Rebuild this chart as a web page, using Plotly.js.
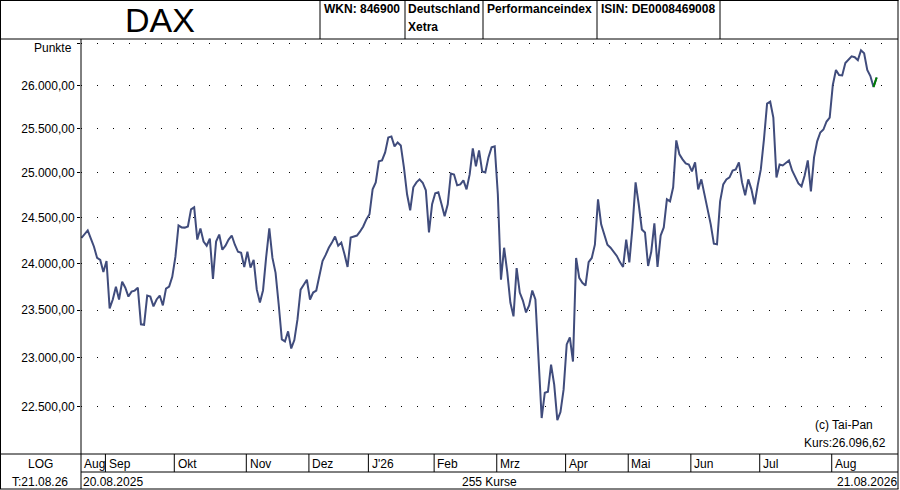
<!DOCTYPE html>
<html>
<head>
<meta charset="utf-8">
<script src="https://cdn.plot.ly/plotly-3.0.1.min.js"></script>
<style>
  html, body { margin: 0; padding: 0; background: #ffffff; }
  #chart { width: 900px; height: 490px; }
</style>
</head>
<body>
<div id="chart"></div>
<script>
// ---------------- data ----------------
const startDate = '2025-08-20';
const holidays = ['2025-12-24','2025-12-25','2025-12-26','2025-12-31','2026-01-01','2026-04-03','2026-04-06','2026-05-01'];
const monthNames = ['Jan','Feb','Mrz','Apr','Mai','Jun','Jul','Aug','Sep','Okt','Nov','Dez'];

const closeValues = [
24277,24314,24359,24270,24181,24059,24037,23908,24026,23518,
23613,23750,23613,23803,23739,23644,23697,23708,23739,23350,
23345,23655,23644,23539,23613,23655,23550,23729,23750,23855,
24070,24414,24392,24390,24403,24592,24614,24259,24381,24237,
24192,24270,23834,24237,24314,24148,24192,24259,24303,24203,
24126,24115,23961,24126,23955,24037,23718,23581,23712,24070,
24381,24059,23898,23560,23192,23171,23276,23098,23185,23402,
23718,23771,23824,23613,23687,23708,23877,24026,24092,24170,
24226,24292,24192,24226,24103,23961,24281,24292,24303,24348,
24403,24481,24537,24814,24892,25129,25140,25231,25401,25413,
25299,25344,25310,25060,24759,24581,24837,24892,24926,24888,
24803,24337,24648,24770,24781,24652,24514,24648,24992,24981,
24859,24870,24914,24814,24981,25276,25072,25253,25015,25003,
25174,25288,25299,24759,23824,24170,23908,23581,23434,23950,
23687,23602,23476,23550,23708,23613,23014,22385,22642,22652,
22931,22724,22364,22446,22673,23140,23213,22962,24059,23845,
23792,23761,24014,24059,24203,24703,24426,24303,24203,24170,
24126,24081,24014,23961,24259,24010,24392,24892,24648,24370,
24337,23972,24126,24437,23961,24303,24392,24703,24681,24837,
25367,25208,25151,25106,25094,25015,25117,24814,24926,24759,
24592,24426,24214,24208,24681,24870,24926,24948,25026,25038,
25117,24892,24748,24926,24814,24648,24859,25038,25378,25790,
25813,25630,24948,25094,25083,25117,25140,25026,24948,24881,
24848,24970,25140,24792,25174,25356,25458,25492,25584,25630,
26008,26184,26125,26120,26266,26312,26347,26336,26301,26418,
26383,26184,26113,25985,26096.62
];

const yTickVals = [22500,23000,23500,24000,24500,25000,25500,26000,26500];
const yTickLabels = ['22.500,00','23.000,00','23.500,00','24.000,00','24.500,00','25.000,00','25.500,00','26.000,00',''];

const headerTexts = ['WKN: 846900','Deutschland','Xetra','Performanceindex','ISIN: DE0008469008'];
const titleText = 'DAX';
const footerTexts = {log:'LOG', tdate:'T:21.08.26', first:'20.08.2025', count:'255 Kurse', last:'21.08.2026'};
const lastQuote = 'Kurs:26.096,62';

// ---------------- trading calendar ----------------
function tradingDates(start, n, hol) {
  const out = [];
  const d = new Date(start + 'T12:00:00Z');
  while (out.length < n) {
    const wd = d.getUTCDay();
    const s = d.toISOString().slice(0,10);
    if (wd !== 0 && wd !== 6 && hol.indexOf(s) < 0) out.push(s);
    d.setUTCDate(d.getUTCDate() + 1);
  }
  return out;
}
const dates = tradingDates(startDate, closeValues.length, holidays);
const idx = dates.map((_, i) => i);

// month starts
const monthStarts = [];
dates.forEach((s, i) => {
  const m = parseInt(s.slice(5,7),10) - 1;
  const prev = i > 0 ? parseInt(dates[i-1].slice(5,7),10) - 1 : -1;
  if (m !== prev) {
    const label = m === 0 ? "J'" + s.slice(2,4) : monthNames[m];
    monthStarts.push({i, label});
  }
});

// ---------------- layout helpers (pixel -> paper) ----------------
const L = 81, R = 897, T = 40, B = 454;
const P = px => (px - L) / (R - L);
const Q = py => (B - py) / (B - T);

const shapes = [];
function hline(y, x0, x1) { shapes.push({type:'line', xref:'paper', yref:'paper', x0:P(x0), x1:P(x1), y0:Q(y), y1:Q(y), line:{color:'#000', width:1}}); }
function vline(x, y0, y1) { shapes.push({type:'line', xref:'paper', yref:'paper', x0:P(x), x1:P(x), y0:Q(y0), y1:Q(y1), line:{color:'#000', width:1}}); }

// outer frame
hline(0.5, 0, 898.5);
hline(489, 0, 898.5);
vline(0.5, 0, 489);
vline(898, 0, 489);
// header
hline(39, 0, 898);
[320, 405, 483, 597, 720].forEach(x => vline(x, 0, 39));
// plot left axis / left column
vline(81, 39, 489);
// footer rows
hline(454, 0, 898);
hline(472, 81, 898);
// month separators
monthStarts.forEach(ms => {
  if (ms.i > 0) shapes.push({type:'line', xref:'x', yref:'paper', x0:ms.i - 0.35, x1:ms.i - 0.35, y0:Q(454), y1:Q(472), line:{color:'#000', width:1}});
});

const txtFont = {family:'Liberation Sans, Arial, sans-serif', size:12, color:'#000'};
const boldFont = {family:'Liberation Sans, Arial, sans-serif', size:12, color:'#000', weight:'bold'};
const ann = [];
function text(t, x, y, xa, font) {
  ann.push({text:t, xref:'paper', yref:'paper', x:P(x), y:Q(y), xanchor:xa, yanchor:'middle', showarrow:false, font:font || txtFont});
}
// header texts
text(titleText, 160, 19.5, 'center', {family:'Liberation Sans, Arial, sans-serif', size:34, color:'#000'});
text(headerTexts[0], 322, 9.5, 'left', boldFont);
text(headerTexts[1], 406, 9.5, 'left', boldFont);
text(headerTexts[2], 406, 27, 'left', boldFont);
text(headerTexts[3], 485, 9.5, 'left', boldFont);
text(headerTexts[4], 599, 9.5, 'left', boldFont);
// y unit
text('Punkte', 74, 48, 'right');
// watermark / last quote
text('(c) Tai-Pan', 875, 425, 'right');
text(lastQuote, 888, 443, 'right');
// footer
text(footerTexts.log, 40, 464, 'center');
text(footerTexts.tdate, 40, 481.5, 'center');
text(footerTexts.first, 81, 481.5, 'left');
text(footerTexts.count, 489, 481.5, 'center');
text(footerTexts.last, 899, 481.5, 'right');
// month labels
monthStarts.forEach(ms => {
  ann.push({text:ms.label, xref:'x', yref:'paper', x:ms.i + 0.05, y:Q(463.5), xanchor:'left', yanchor:'middle', showarrow:false, font:txtFont});
});

const n = closeValues.length;
const traces = [
  {x: idx, y: closeValues, type:'scatter', mode:'lines', line:{color:'#404c7c', width:2}, hoverinfo:'skip'},
  {x: idx.slice(n-2), y: closeValues.slice(n-2), type:'scatter', mode:'lines', line:{color:'#008000', width:2}, hoverinfo:'skip'}
];

const layout = {
  width: 900, height: 490,
  margin: {l: L, r: 900 - R, t: T, b: 490 - B, pad: 0},
  paper_bgcolor: '#ffffff', plot_bgcolor: '#ffffff',
  showlegend: false,
  font: txtFont,
  xaxis: {type:'linear', range:[-0.15, 260.5], showgrid:false, zeroline:false, showline:false, showticklabels:false, ticks:'', fixedrange:true},
  yaxis: {type:'log', range:[4.342927, 4.423913], tickvals:yTickVals, ticktext:yTickLabels,
          ticks:'outside', ticklen:3, tickcolor:'#000', tickfont:{family:'Liberation Sans, Arial, sans-serif', size:12, color:'#000'},
          showgrid:true, gridcolor:'#000', gridwidth:1, griddash:'1px,15px', zeroline:false, showline:false, fixedrange:true},
  shapes: shapes,
  annotations: ann
};

Plotly.newPlot('chart', traces, layout, {staticPlot:true, displayModeBar:false});
</script>
</body>
</html>
